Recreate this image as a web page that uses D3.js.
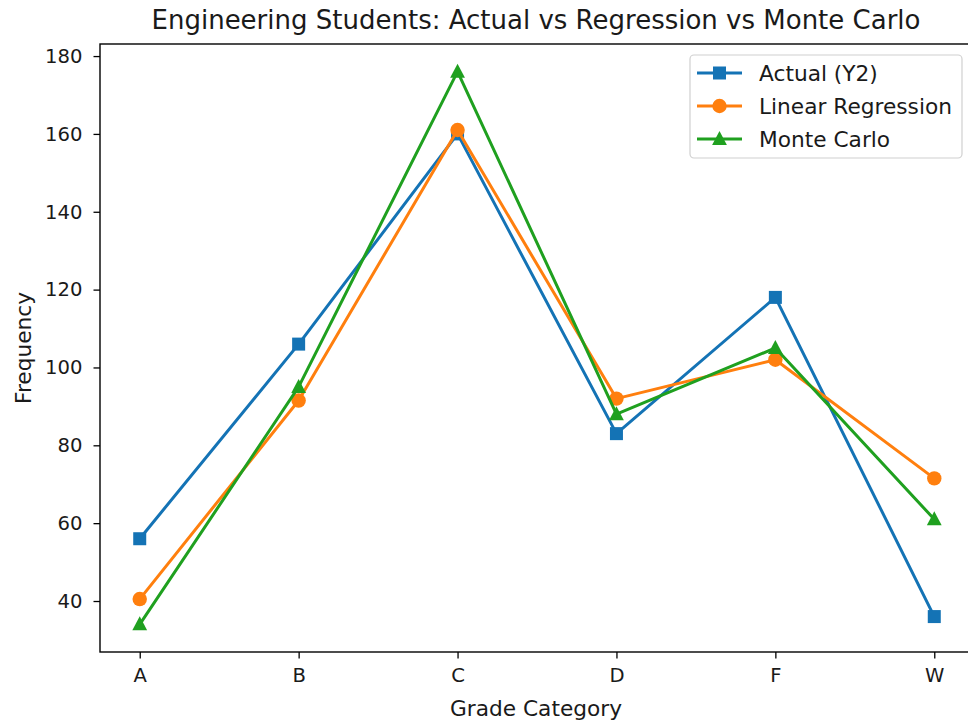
<!DOCTYPE html>
<html><head><meta charset="utf-8">
<script src="https://cdn.jsdelivr.net/npm/d3@7"></script>
<style>body{margin:0;background:#fff}svg{display:block}text{font-family:"DejaVu Sans",sans-serif;fill:#1a1a1a}</style>
</head><body>
<script>
const categories = ["A","B","C","D","F","W"];
const actual = [56,106,160,83,118,36];
const regression = [40.5,91.5,161,92,102,71.5];
const monteCarlo = [34,95,176,88,105,61];
const yTicks = [40,60,80,100,120,140,160,180];
const seriesNames = ["Actual (Y2)","Linear Regression","Monte Carlo"];
const colors = ["#1473b5","#ff7f0e","#1fa01f"];
const shapes = ["square","circle","triangle"];

const W=968,H=724;
const L=100,R=974,T=44,B=652;
const svg=d3.select("body").append("svg").attr("width",W).attr("height",H);
const x=d3.scalePoint().domain(categories).range([L,R]).padding(0.25);
const all=[...actual,...regression,...monteCarlo];
const mn=d3.min(all),mx=d3.max(all),pad=(mx-mn)*0.05;
const y=d3.scaleLinear().domain([mn-pad,mx+pad]).range([B,T]);

// axes
const tfs=19.6, lfs=21.7;
const xa=svg.append("g").attr("transform",`translate(0,${B})`).call(d3.axisBottom(x).tickSize(6.5).tickPadding(9.5));
const ya=svg.append("g").attr("transform",`translate(${L},0)`).call(d3.axisLeft(y).tickValues(yTicks).tickSize(6.5).tickPadding(11));
[xa,ya].forEach(a=>{a.select(".domain").remove();a.selectAll("line").attr("stroke","#000").attr("stroke-width",1.3);a.selectAll("text").attr("font-size",tfs).attr("font-family","DejaVu Sans").attr("fill","#1a1a1a");});
svg.append("rect").attr("x",L).attr("y",T).attr("width",R-L).attr("height",B-T).attr("fill","none").attr("stroke","#000").attr("stroke-width",1.4);

const data=[actual,regression,monteCarlo];
const line=d3.line().x((d,i)=>x(categories[i])).y(d=>y(d));
function marker(g,shape,cx,cy,c){
  if(shape==="square") g.append("rect").attr("x",cx-6.5).attr("y",cy-6.5).attr("width",13).attr("height",13).attr("fill",c);
  else if(shape==="circle") g.append("circle").attr("cx",cx).attr("cy",cy).attr("r",7.2).attr("fill",c);
  else g.append("path").attr("d",`M${cx},${cy-8}L${cx+7.4},${cy+6}L${cx-7.4},${cy+6}Z`).attr("fill",c);
}
data.forEach((s,k)=>{
  const g=svg.append("g");
  g.append("path").attr("d",line(s)).attr("fill","none").attr("stroke",colors[k]).attr("stroke-width",3).attr("stroke-linejoin","round");
  s.forEach((v,i)=>marker(g,shapes[k],x(categories[i]),y(v),colors[k]));
});

// title and labels
svg.append("text").attr("x",536).attr("y",29).attr("text-anchor","middle").attr("font-size",26).text("Engineering Students: Actual vs Regression vs Monte Carlo");
svg.append("text").attr("x",536).attr("y",716).attr("text-anchor","middle").attr("font-size",lfs).text("Grade Category");
svg.append("text").attr("transform",`translate(31,${(T+B)/2}) rotate(-90)`).attr("text-anchor","middle").attr("font-size",lfs).text("Frequency");

// legend
const lg=svg.append("g");
lg.append("rect").attr("x",690).attr("y",55).attr("width",272).attr("height",103).attr("rx",4).attr("fill","#fff").attr("fill-opacity",0.8).attr("stroke","#d0d0d0").attr("stroke-width",1.2);
seriesNames.forEach((n,k)=>{
  const cy=73+k*33;
  lg.append("line").attr("x1",697).attr("x2",742).attr("y1",cy).attr("y2",cy).attr("stroke",colors[k]).attr("stroke-width",3);
  marker(lg,shapes[k],719.5,cy,colors[k]);
  lg.append("text").attr("x",759).attr("y",cy+7.5).attr("font-size",lfs).text(n);
});
</script>
</body></html>
